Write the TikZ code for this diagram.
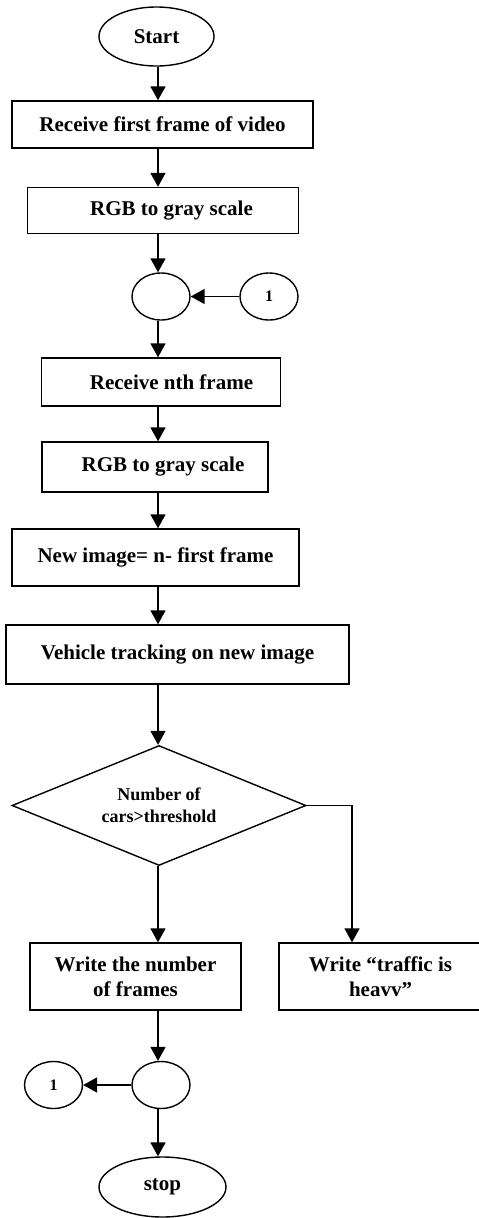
\documentclass[tikz,border=0pt]{standalone}
\usepackage{fontspec}
\setmainfont{Liberation Serif}
\usetikzlibrary{arrows.meta,shapes.geometric}

\begin{document}
\begin{tikzpicture}[x=1pt, y=-1pt,
    every node/.style={draw, line width=1.4pt, inner sep=0pt, align=center,
      font=\fontsize{21}{25}\selectfont\bfseries},
    process/.style={rectangle},
    terminal/.style={ellipse},
    junction/.style={ellipse, minimum width=58pt, minimum height=47pt},
    onpage/.style={junction, font=\fontsize{16}{18}\selectfont\bfseries},
    decision/.style={diamond, aspect=2.45, minimum width=294pt, minimum height=120pt,
      font=\fontsize{18}{22}\selectfont\bfseries},
    flow/.style={line width=1.8pt, -{Triangle[length=14pt,width=15pt]}}]
\useasboundingbox (0,0) rectangle (479,1218);
\coordinate (spine) at (158,0);
\coordinate (drop) at (352,0);

\node [terminal, minimum width=115pt, minimum height=59pt] (start) at (156.5,36.5) {Start};
\node [process, minimum width=301pt, minimum height=47pt] (first) at (162.5,124.5) {Receive first frame of video};
\node [process, minimum width=271pt, minimum height=46pt] (gray1) at (163,210.5) {\hspace*{17pt}RGB to gray scale};
\node [junction] (join1) at (161,296.5) {};
\node [onpage] (back1) at (269,296.5) {1};
\node [process, minimum width=239pt, minimum height=48pt] (nth) at (161,382) {\hspace*{21pt}Receive nth frame};
\node [process, minimum width=226pt, minimum height=50pt] (gray2) at (155,467) {\hspace*{16pt}RGB to gray scale};
\node [process, minimum width=287pt, minimum height=57pt] (diff) at (155.5,557.5) {New image= n- first frame};
\node [process, minimum width=343pt, minimum height=59pt] (track) at (177.5,654.5) {Vehicle tracking on new image};
\node [decision] (test) at (159,805.5) {Number of\\cars>threshold};
\node [process, minimum width=211pt, minimum height=67pt] (count) at (135.5,976.5) {Write the number\\of frames};
\node [process, minimum width=203pt, minimum height=67pt] (heavy) at (380.5,976.5) {Write “traffic is\\heavv”};
\node [junction] (join2) at (161,1085) {};
\node [onpage] (back2) at (53.5,1085) {1};
\node [terminal, minimum width=127pt, minimum height=60pt] (stop) at (162.5,1187) {stop};

% main line, all on one vertical
\foreach \a/\b in {start/first, first/gray1, gray1/join1, join1/nth, nth/gray2,
    gray2/diff, diff/track, track/test, test/count, count/join2, join2/stop}
  \draw [flow] (\a.south -| spine) -- (\b.north -| spine);

% side branches
\draw [flow] (back1) -- (join1);
\draw [flow] (join2) -- (back2);
\draw [flow] (test.east) -| (heavy.north -| drop);
\end{tikzpicture}
\end{document}
